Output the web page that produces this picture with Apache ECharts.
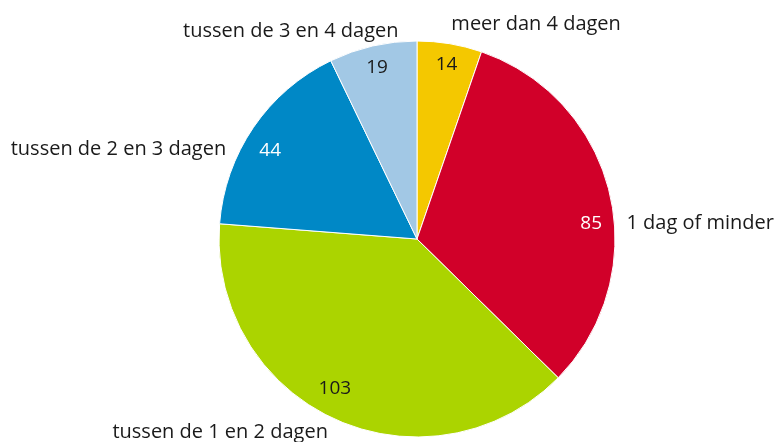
<!DOCTYPE html>
<html>
<head>
<meta charset="utf-8">
<script src="https://cdn.jsdelivr.net/npm/echarts@6/dist/echarts.min.js"></script>
<style>
  html, body { margin: 0; padding: 0; background: #fff; }
  #chart { width: 774px; height: 442px; }
</style>
</head>
<body>
<div id="chart"></div>
<script>
// categorieen en aantallen, met de klok mee vanaf boven
var categories = ['meer dan 4 dagen', '1 dag of minder', 'tussen de 1 en 2 dagen', 'tussen de 2 en 3 dagen', 'tussen de 3 en 4 dagen'];
var values = [14, 85, 103, 44, 19];
var colors = ['#F4C800', '#D10029', '#ABD400', '#0088C6', '#A2C8E5'];
var innerTextColors = ['#1a1a1a', '#ffffff', '#1a1a1a', '#ffffff', '#1a1a1a'];

// kleine verschuivingen van de labels (zoals in het origineel)
var outerShift = [[0, -10], [7, 32], [-3, 4], [-19, 28], [28, -5]];
var innerShift = [[0, 2], [0, 26], [-8, -13], [1, 12], [0, 3]];

var myChart = echarts.init(document.getElementById('chart'));

var font = 'Open Sans';

var mainData = [];
var labelData = [];
for (var i = 0; i < categories.length; i++) {
    mainData.push({
        name: categories[i],
        value: values[i],
        itemStyle: { color: colors[i] }
    });
    labelData.push({
        name: categories[i],
        value: values[i],
        label: { color: innerTextColors[i] }
    });
}

var option = {
    backgroundColor: '#fff',
    animation: false,
    series: [
        {
            type: 'pie',
            center: [417, 239],
            radius: [0, 198],
            startAngle: 90,
            clockwise: true,
            avoidLabelOverlap: false,
            silent: true,
            itemStyle: { borderColor: '#fff', borderWidth: 1 },
            label: {
                show: true,
                position: 'outside',
                formatter: '{b}',
                color: '#1a1a1a',
                fontFamily: font,
                fontSize: 20,
                distanceToLabelLine: 0
            },
            labelLine: { show: false, length: 10, length2: 0 },
            labelLayout: function (p) {
                return { dx: outerShift[p.dataIndex][0], dy: outerShift[p.dataIndex][1] };
            },
            data: mainData
        },
        {
            // transparante ring alleen voor de getallen in de taartpunten
            type: 'pie',
            center: [417, 239],
            radius: [154, 198],
            startAngle: 90,
            clockwise: true,
            silent: true,
            itemStyle: { color: 'rgba(0,0,0,0)' },
            label: {
                show: true,
                position: 'inside',
                formatter: '{c}',
                fontFamily: font,
                fontSize: 19
            },
            labelLine: { show: false },
            labelLayout: function (p) {
                return { dx: innerShift[p.dataIndex][0], dy: innerShift[p.dataIndex][1] };
            },
            data: labelData
        }
    ]
};

myChart.setOption(option);
</script>
</body>
</html>
